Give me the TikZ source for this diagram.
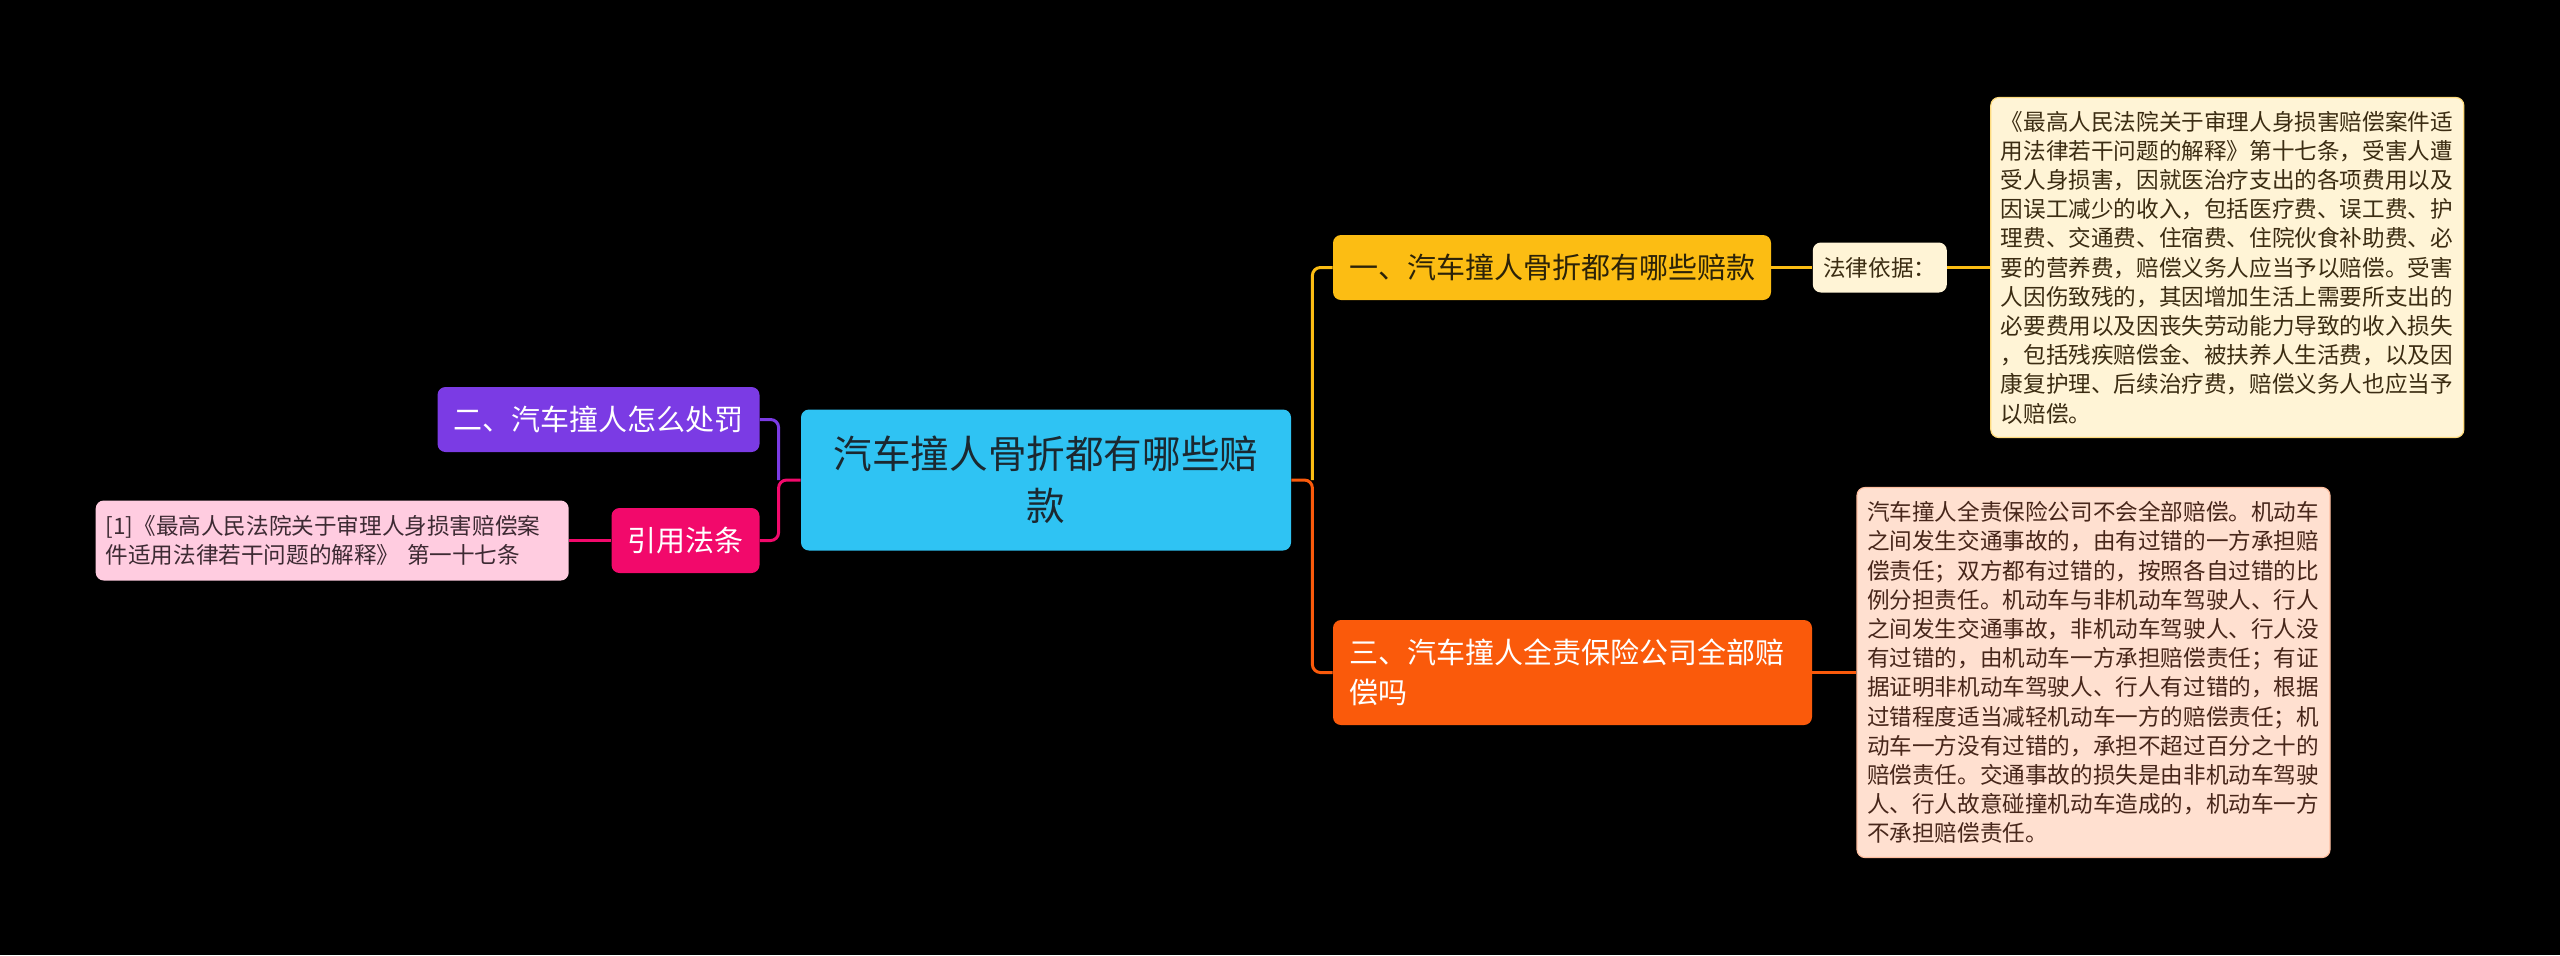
\documentclass[tikz,border=0pt]{standalone}
\usepackage{fontspec}
\newfontfamily\cjk{Noto Sans CJK SC}
\usetikzlibrary{positioning}

\definecolor{rootcol}{HTML}{2FC3F3}
\definecolor{yelcol}{HTML}{FCBD13}
\definecolor{orgcol}{HTML}{FA5A0B}
\definecolor{purcol}{HTML}{7B3BE4}
\definecolor{pinkcol}{HTML}{F2096B}
\definecolor{refcol}{HTML}{FFCCE0}
\definecolor{creamcol}{HTML}{FFF4D6}
\definecolor{peachcol}{HTML}{FFE0D0}
\definecolor{inkroot}{HTML}{1B2830}
\definecolor{inkyel}{HTML}{2B2208}
\definecolor{inkbrown}{HTML}{3B2C12}
\definecolor{inkpeach}{HTML}{47261A}
\definecolor{inkref}{HTML}{3D2A33}

\newcommand{\mmroot}{\cjk\fontsize{19.3}{26}\selectfont}
\newcommand{\mmbranch}{\cjk\fontsize{14.5}{20}\selectfont}
\newcommand{\mmbody}{\cjk\fontsize{11.3}{14.6}\selectfont}

\begin{document}
\begin{tikzpicture}[x=0.5pt, y=-0.5pt,
    rootbox/.style={fill=rootcol, text=inkroot, font=\mmroot, rounded corners=4pt, align=center, inner sep=0pt, minimum width=245pt, minimum height=70.5pt},
    topicbox/.style={rounded corners=4pt, font=\mmbranch, inner ysep=0pt, inner xsep=8pt, minimum height=32.5pt},
    notebox/.style={rounded corners=4pt, font=\mmbody, align=left, inner ysep=0pt, inner xsep=5pt},
    link/.style={line width=1.5pt, rounded corners=4pt}]
    \useasboundingbox (0,0) rectangle (2560,955);
    \fill[black] (0,0) rectangle (2560,955);

    % centre and first level
    \node[rootbox] (root) at (1046,480) {汽车撞人骨折都有哪些赔\\款};
    \node[topicbox, fill=yelcol, text=inkyel, minimum width=219pt] (one) at (1552,267.5) {一、汽车撞人骨折都有哪些赔款};
    \node[topicbox, fill=orgcol, text=white, align=left, text width=223.5pt, minimum height=52.5pt] (three) at (1572.5,672.5) {三、汽车撞人全责保险公司全部赔\\偿吗};
    \node[topicbox, fill=purcol, text=white, minimum width=159.5pt] (two) at (598.5,419.5) {二、汽车撞人怎么处罚};
    \node[topicbox, fill=pinkcol, text=white, minimum width=72.5pt] (cite) at (685.5,540.5) {引用法条};

    % notes
    \node[notebox, fill=creamcol, text=inkbrown, minimum width=67pt, minimum height=25pt, right=20.5pt of one] (basis) {法律依据：};
    \node[notebox, fill=creamcol, draw=yelcol!45!creamcol, line width=0.6pt, text=inkbrown, text width=226.5pt, minimum height=170pt, right=21.5pt of basis] (lawtext) {《最高人民法院关于审理人身损害赔偿案件适\\用法律若干问题的解释》第十七条，受害人遭\\受人身损害，因就医治疗支出的各项费用以及\\因误工减少的收入，包括医疗费、误工费、护\\理费、交通费、住宿费、住院伙食补助费、必\\要的营养费，赔偿义务人应当予以赔偿。受害\\人因伤致残的，其因增加生活上需要所支出的\\必要费用以及因丧失劳动能力导致的收入损失\\，包括残疾赔偿金、被扶养人生活费，以及因\\康复护理、后续治疗费，赔偿义务人也应当予\\以赔偿。};
    \node[notebox, fill=peachcol, draw=orgcol!25!peachcol, line width=0.6pt, text=inkpeach, text width=226.5pt, minimum height=185pt, right=22pt of three] (insure) {汽车撞人全责保险公司不会全部赔偿。机动车\\之间发生交通事故的，由有过错的一方承担赔\\偿责任；双方都有过错的，按照各自过错的比\\例分担责任。机动车与非机动车驾驶人、行人\\之间发生交通事故，非机动车驾驶人、行人没\\有过错的，由机动车一方承担赔偿责任；有证\\据证明非机动车驾驶人、行人有过错的，根据\\过错程度适当减轻机动车一方的赔偿责任；机\\动车一方没有过错的，承担不超过百分之十的\\赔偿责任。交通事故的损失是由非机动车驾驶\\人、行人故意碰撞机动车造成的，机动车一方\\不承担赔偿责任。};
    \node[notebox, fill=refcol, text=inkref, text width=226.5pt, minimum height=40pt, left=21pt of cite] (ref) {[1]《最高人民法院关于审理人身损害赔偿案\\件适用法律若干问题的解释》 第一十七条};

    % connectors
    \coordinate[right=10.5pt of root.east] (rjoin);
    \coordinate[left=11pt of root.west] (ljoin);
    \draw[link, yelcol] (rjoin) |- (one.west);
    \draw[link, orgcol] (root.east) -- (rjoin) |- (three.west);
    \draw[link, purcol] (ljoin) |- (two.east);
    \draw[link, pinkcol] (root.west) -- (ljoin) |- (cite.east);
    \draw[link, yelcol] (one.east) -- (one.east -| basis.west);
    \draw[link, yelcol] (basis.east) -- (basis.east -| lawtext.west);
    \draw[link, orgcol] (three.east) -- (three.east -| insure.west);
    \draw[link, pinkcol] (cite.west) -- (cite.west -| ref.east);
\end{tikzpicture}
\end{document}
